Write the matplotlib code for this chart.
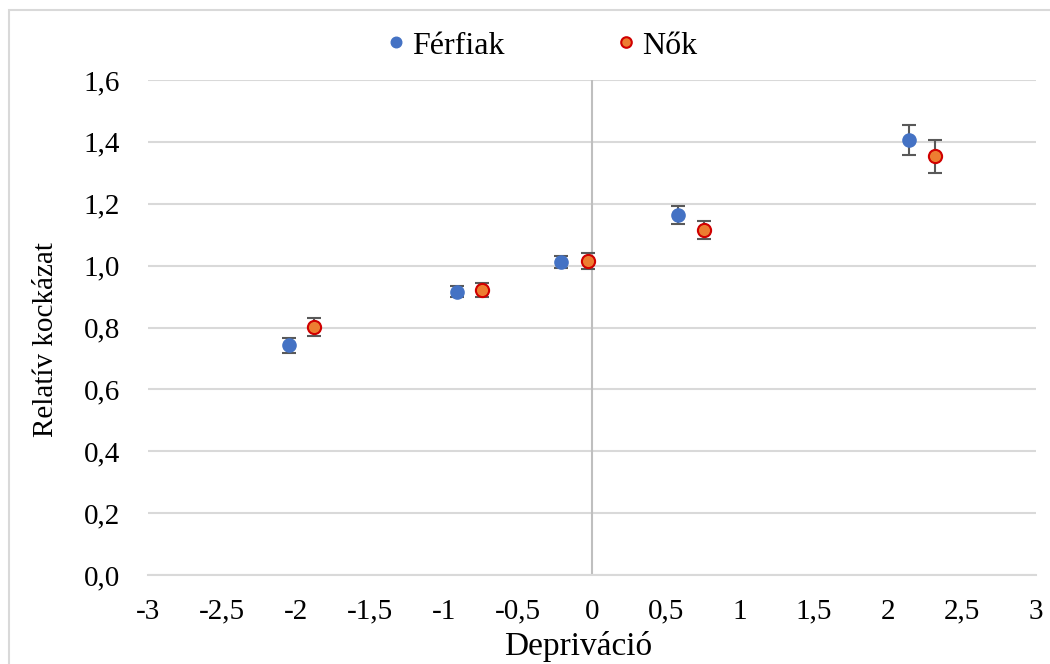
# Relative risk by deprivation, men vs women
import matplotlib.pyplot as plt
from matplotlib.patches import Rectangle
from matplotlib.ticker import FuncFormatter, MultipleLocator

# Férfiak (men)
men_x = [-2.05, -0.91, -0.21, 0.58, 2.14]
men_rr = [0.743, 0.915, 1.012, 1.164, 1.406]
men_err = [0.024, 0.018, 0.019, 0.029, 0.048]

# Nők (women)
women_x = [-1.88, -0.74, -0.03, 0.76, 2.32]
women_rr = [0.802, 0.921, 1.015, 1.115, 1.354]
women_err = [0.028, 0.023, 0.026, 0.029, 0.053]

plt.rcParams['font.family'] = ['Liberation Serif', 'DejaVu Serif']

fig = plt.figure(figsize=(10.5, 6.64), dpi=100)
ax = fig.add_axes([148 / 1050, 89 / 664, 888 / 1050, 495 / 664])

# light frame around the whole chart, like the spreadsheet chart border
fig.patches.append(Rectangle((9 / 1050, -0.05), 1.1, (654 / 664) + 0.05,
                             transform=fig.transFigure, fill=False,
                             edgecolor='#D9D9D9', linewidth=1.5))

ax.set_xlim(-3, 3)
ax.set_ylim(0, 1.6)
ax.yaxis.set_major_locator(MultipleLocator(0.2))
ax.xaxis.set_major_locator(MultipleLocator(0.5))
ax.grid(axis='y', color='#D9D9D9', linewidth=1.5)
ax.set_axisbelow(True)
for side in ['top', 'right', 'left']:
    ax.spines[side].set_visible(False)
ax.spines['bottom'].set_color('#D9D9D9')
ax.spines['bottom'].set_linewidth(1.5)
ax.axvline(0, color='#BFBFBF', linewidth=1.5, zorder=1)

ax.xaxis.set_major_formatter(FuncFormatter(lambda v, p: ('%g' % v).replace('.', ',')))
ax.yaxis.set_major_formatter(FuncFormatter(lambda v, p: ('%.1f' % v).replace('.', ',')))
ax.tick_params(axis='both', length=0, labelsize=21, colors='#000000')
ax.tick_params(axis='y', pad=20)
ax.tick_params(axis='x', pad=17)

ax.errorbar(men_x, men_rr, yerr=men_err, fmt='o', color='#4472C4',
            markersize=9.5, ecolor='#595959', elinewidth=1.5, capsize=4.8,
            capthick=1.5, label='Férfiak', zorder=3)
ax.errorbar(women_x, women_rr, yerr=women_err, fmt='o', markerfacecolor='#ED7D31',
            markeredgecolor='#D00000', markeredgewidth=1.5, markersize=9.5,
            ecolor='#595959', elinewidth=1.5, capsize=4.8, capthick=1.5,
            label='Nők', zorder=3)

ax.set_xlabel('Depriváció', fontsize=24)
ax.xaxis.set_label_coords(0.484, -0.113)
ax.set_ylabel('Relatív kockázat', fontsize=21)
ax.yaxis.set_label_coords(-0.1, 0.475)

handles, labels = ax.get_legend_handles_labels()
handles = [h[0] for h in handles]
fig.legend(handles, labels, loc='center', bbox_to_anchor=(542 / 1050, 1 - 46 / 664),
           bbox_transform=fig.transFigure, ncol=2, frameon=False, fontsize=23,
           columnspacing=3.5, handletextpad=0.2, handlelength=0.6, markerscale=0.8)

fig.savefig('out.png', dpi=100)
